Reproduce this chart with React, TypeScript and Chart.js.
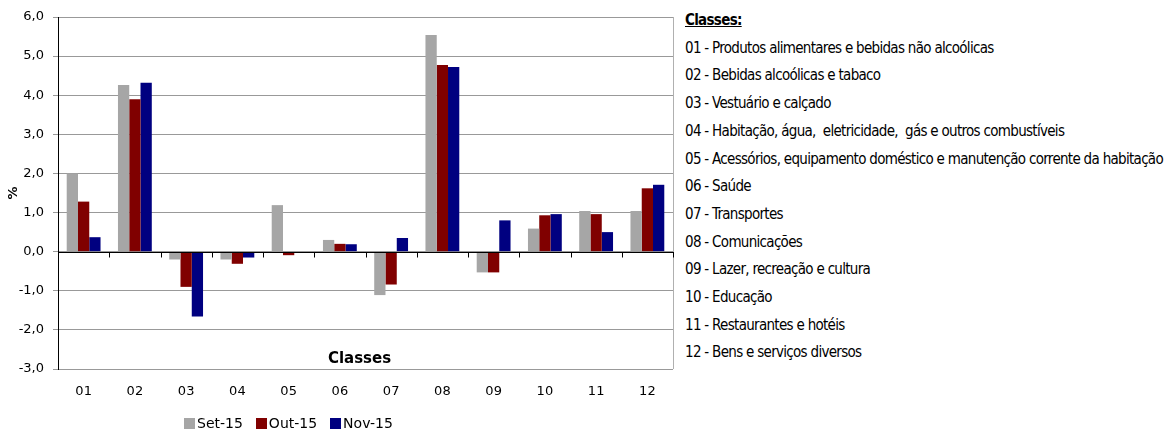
import React, { useEffect, useRef } from "react";
import { Chart, registerables } from "chart.js";

Chart.register(...registerables);

const categories = ["01", "02", "03", "04", "05", "06", "07", "08", "09", "10", "11", "12"];
const seriesNames = ["Set-15", "Out-15", "Nov-15"];
const seriesColors = ["#A6A6A6", "#800000", "#000080"];
const set15 = [2.0, 4.26, -0.2, -0.2, 1.19, 0.3, -1.11, 5.54, -0.53, 0.59, 1.04, 1.04];
const out15 = [1.28, 3.9, -0.9, -0.31, -0.09, 0.2, -0.84, 4.77, -0.53, 0.93, 0.96, 1.62];
const nov15 = [0.37, 4.32, -1.66, -0.15, -0.03, 0.19, 0.35, 4.72, 0.8, 0.96, 0.5, 1.71];
const seriesValues = [set15, out15, nov15];
const yMin = -3;
const yMax = 6;
const yAxisTitle = "%";
const xAxisTitle = "Classes";
const classesHeader = "Classes:";
const classDescriptions = [
  "01 - Produtos alimentares e bebidas não alcoólicas",
  "02 - Bebidas alcoólicas e tabaco",
  "03 - Vestuário e calçado",
  "04 - Habitação, água,  eletricidade,  gás e outros combustíveis",
  "05 - Acessórios, equipamento doméstico e manutenção corrente da habitação",
  "06 - Saúde",
  "07 - Transportes",
  "08 - Comunicações",
  "09 - Lazer, recreação e cultura",
  "10 - Educação",
  "11 - Restaurantes e hotéis",
  "12 - Bens e serviços diversos",
];

const FONT = "'DejaVu Sans', Verdana, sans-serif";

const overlayPlugin = {
  id: "overlay",
  afterDatasetsDraw(chart: any) {
    const { ctx, chartArea, scales } = chart;
    const x = scales.x;
    const y = scales.y;
    ctx.save();
    // right border
    ctx.strokeStyle = "#b0b0b0";
    ctx.lineWidth = 1;
    ctx.beginPath();
    ctx.moveTo(Math.round(chartArea.right) + 0.5, chartArea.top);
    ctx.lineTo(Math.round(chartArea.right) + 0.5, chartArea.bottom);
    ctx.stroke();
    // zero line & category ticks
    const y0 = Math.round(y.getPixelForValue(0)) + 0.5;
    ctx.strokeStyle = "#000";
    ctx.beginPath();
    ctx.moveTo(chartArea.left, y0);
    ctx.lineTo(chartArea.right + 1, y0);
    for (let i = 1; i <= categories.length; i++) {
      const px = Math.round(x.getPixelForValue(i - 0.5)) + 0.5;
      ctx.moveTo(px, y0);
      ctx.lineTo(px, y0 + 5);
    }
    ctx.stroke();
    // x axis title inside plot
    ctx.fillStyle = "#000";
    ctx.font = "bold 15px " + FONT;
    ctx.textAlign = "center";
    ctx.textBaseline = "middle";
    ctx.fillText(xAxisTitle, (chartArea.left + chartArea.right) / 2 - 6, chartArea.bottom - 10);
    ctx.restore();
  },
};

export default function App() {
  const canvasRef = useRef<HTMLCanvasElement | null>(null);

  useEffect(() => {
    if (!canvasRef.current) return;
    const chart = new Chart(canvasRef.current, {
      type: "bar",
      data: {
        labels: categories,
        datasets: seriesNames.map((name, i) => ({
          label: name,
          data: seriesValues[i],
          backgroundColor: seriesColors[i],
          borderWidth: 0,
          categoryPercentage: 0.66,
          barPercentage: 1,
        })),
      },
      options: {
        animation: false,
        responsive: false,
        devicePixelRatio: 1,
        layout: { padding: { left: 0, top: 17, right: 7, bottom: 0 } },
        plugins: {
          legend: { display: false },
          tooltip: { enabled: false },
        },
        scales: {
          x: {
            type: "category",
            offset: true,
            grid: { display: false, drawTicks: false },
            border: { display: false },
            ticks: { color: "#000", font: { family: FONT, size: 13 }, padding: 15, maxRotation: 0 },
            afterFit: (scale: any) => {
              scale.height = 67;
            },
          },
          y: {
            min: yMin,
            max: yMax,
            grid: {
              color: "#999999",
              tickLength: 5,
              tickColor: "#999999",
            },
            border: { display: true, color: "#000", width: 1 },
            ticks: {
              stepSize: 1,
              color: "#000",
              font: { family: FONT, size: 13 },
              padding: 9,
              callback: (v: any) => Number(v).toFixed(1).replace(".", ","),
            },
            title: {
              display: true,
              text: yAxisTitle,
              color: "#000",
              font: { family: FONT, size: 13, weight: "bold" },
              padding: { top: 6, bottom: 0 },
            },
            afterFit: (scale: any) => {
              scale.width = 58;
            },
          },
        },
      },
      plugins: [overlayPlugin],
    });
    return () => chart.destroy();
  }, []);

  return (
    <div style={{ position: "fixed", left: 0, top: 0, width: 1174, height: 436, background: "#fff" }}>
      <canvas ref={canvasRef} width={680} height={436} style={{ position: "absolute", left: 0, top: 0 }} />
      <div
        style={{
          position: "absolute",
          left: 184,
          top: 414,
          display: "flex",
          alignItems: "center",
          fontFamily: FONT,
          fontSize: 14,
          color: "#000",
          lineHeight: "18px",
        }}
      >
        {seriesNames.map((name, i) => (
          <div key={name} style={{ display: "flex", alignItems: "center", marginRight: 13 }}>
            <span style={{ width: 11, height: 11, background: seriesColors[i], display: "inline-block", marginRight: 2 }} />
            <span>{name}</span>
          </div>
        ))}
      </div>
      <div
        style={{
          position: "absolute",
          left: 685,
          top: 7,
          fontFamily: "'Liberation Sans Narrow', 'DejaVu Sans Condensed', sans-serif",
          fontSize: 15,
          letterSpacing: "-0.7px",
          lineHeight: "27.7px",
          color: "#000",
          whiteSpace: "pre",
        }}
      >
        <div style={{ fontWeight: "bold", textDecoration: "underline" }}>{classesHeader}</div>
        {classDescriptions.map((t) => (
          <div key={t}>{t}</div>
        ))}
      </div>
    </div>
  );
}
